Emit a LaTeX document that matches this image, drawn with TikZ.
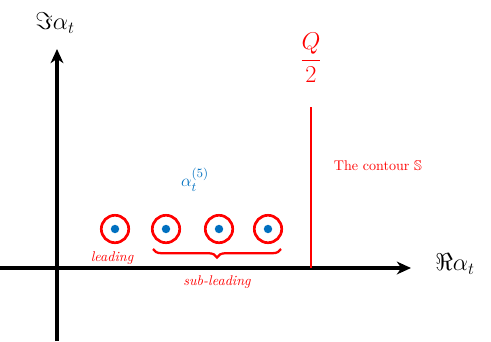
\documentclass[tikz,border=0pt]{standalone}
\usepackage{amsmath,amssymb}
\usetikzlibrary{arrows.meta,decorations.pathreplacing}
\definecolor{polered}{RGB}{255,0,0}
\definecolor{poleblue}{RGB}{0,112,192}
\begin{document}
\begin{tikzpicture}[x=0.025cm, y=-0.025cm,
  axis/.style={line width=2.3pt, -{Stealth[length=10pt,width=9pt,inset=3pt]}},
  pole/.style={circle, draw=polered, line width=1.9pt, minimum size=19.5pt, inner sep=0pt},
  dot/.style={circle, fill=poleblue, minimum size=6pt, inner sep=0pt},
  redtext/.style={text=polered, font=\fontsize{10}{12}\selectfont}
]
\useasboundingbox (0,0) rectangle (491,341);
% axes
\coordinate (xstart) at (0,268);
\coordinate (xend) at (411,268);
\coordinate (ystart) at (57,341);
\coordinate (yend) at (57,49);
\draw[axis] (xstart) -- (xend);
\draw[axis] (ystart) -- (yend);
\node (relabel) at (455,264) {\fontsize{18}{20}\selectfont $\Re\alpha_t$};
\node (imlabel) at (55,23) {\fontsize{18}{20}\selectfont $\Im\alpha_t$};
% contour
\node[text=polered] (half) at (311,58) {\fontsize{18}{20}\selectfont $\dfrac{Q}{2}$};
\coordinate (ctop) at (311,107);
\coordinate (cbot) at (311,268);
\draw[polered, line width=2pt] (ctop) -- (cbot);
\node[redtext, anchor=west] (contour) at (329,166) {The contour $\mathbb{S}$};
% poles
\foreach \i/\x in {1/115, 2/166, 3/219, 4/268} {
  \node[pole] (p\i) at (\x,229) {};
  \node[dot] (d\i) at (p\i) {};
}
\node[text=poleblue] (alpha) at (195,180) {\fontsize{13}{15}\selectfont $\alpha_t^{(5)}$};
\node[redtext] (lead) at (112,258) {\itshape leading};
\coordinate (bl) at (153,249);
\coordinate (br) at (281,249);
\draw[polered, line width=1.6pt, decorate, decoration={brace, mirror, amplitude=6pt}] (bl) -- (br);
\node[redtext] (sublead) at (217,282) {\itshape sub-leading};
\end{tikzpicture}
\end{document}
